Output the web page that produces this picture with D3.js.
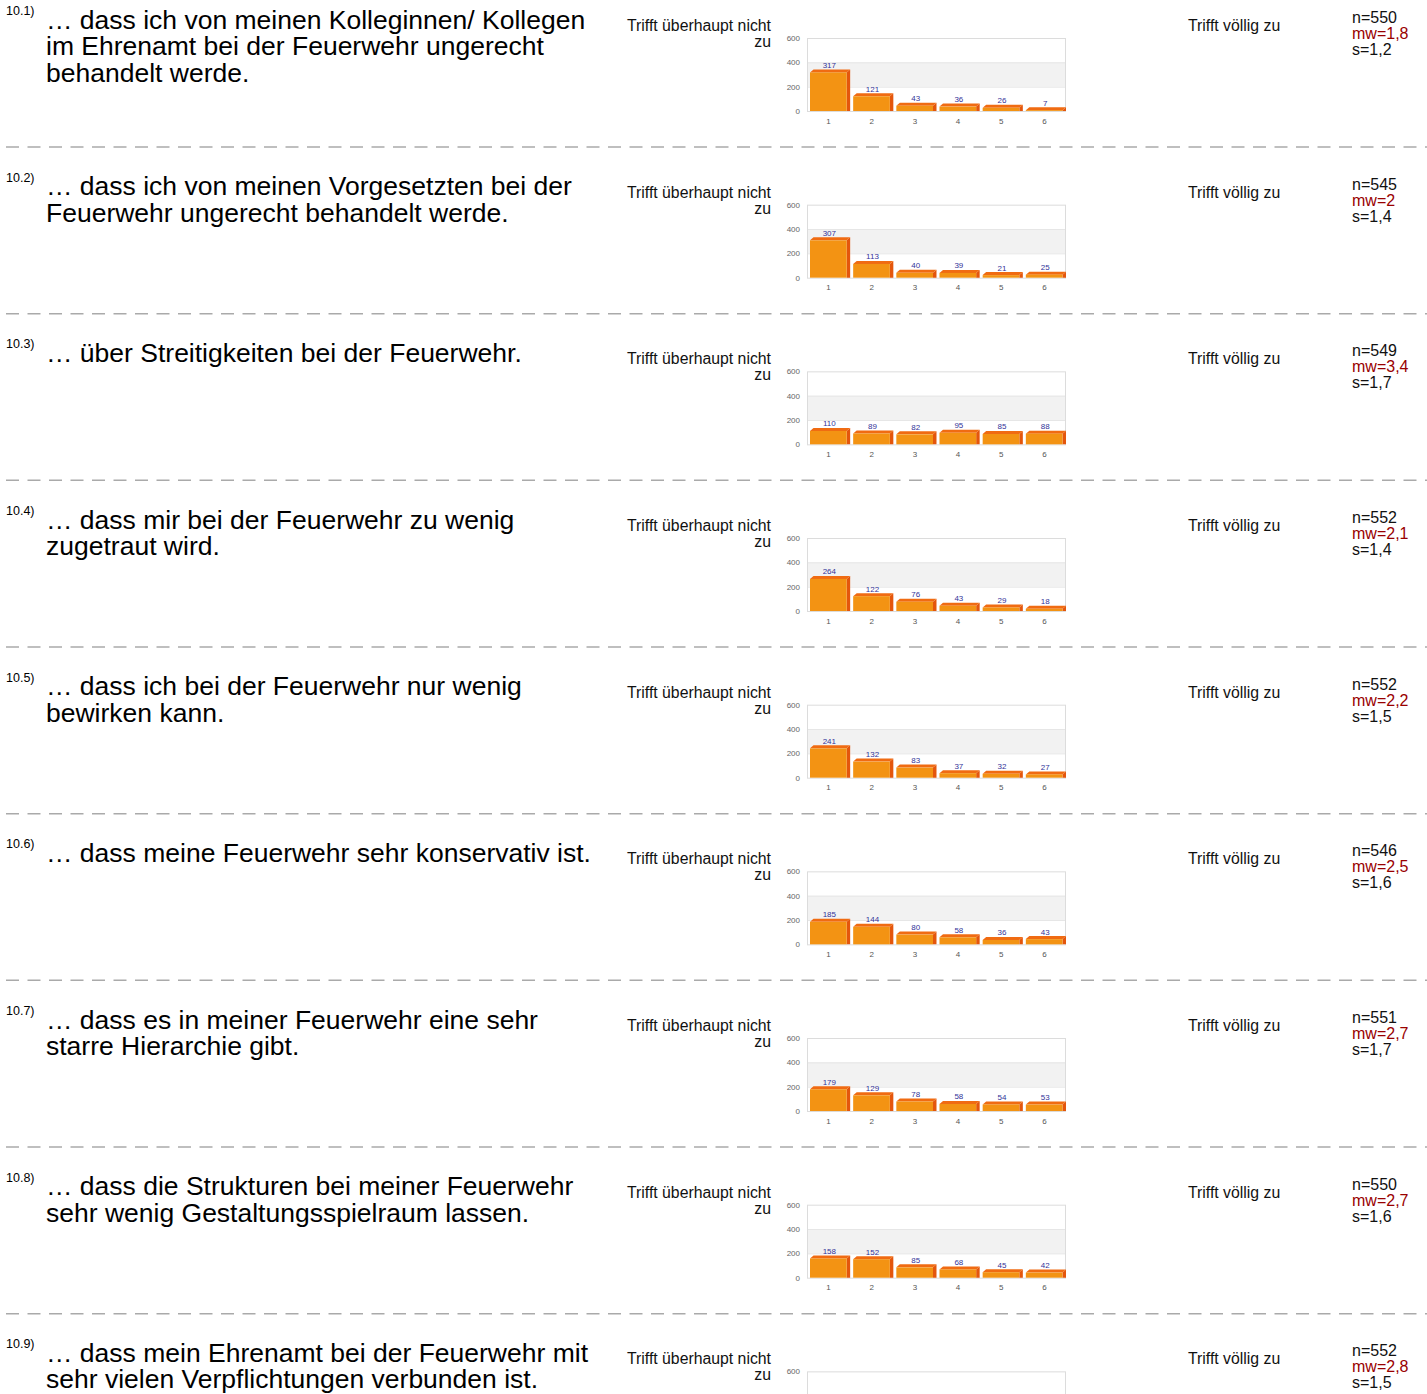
<!DOCTYPE html>
<html><head><meta charset="utf-8">
<script src="https://cdn.jsdelivr.net/npm/d3@7"></script>
<style>
html,body{margin:0;padding:0;background:#fff;overflow:hidden;}
svg{display:block;font-family:"Liberation Sans",Arial,sans-serif;}
</style></head>
<body>
<svg id="chart" width="1427" height="1394"></svg>
<script>
const ids = ["10.1)","10.2)","10.3)","10.4)","10.5)","10.6)","10.7)","10.8)","10.9)"];
const questions = [
  ["… dass ich von meinen Kolleginnen/ Kollegen","im Ehrenamt bei der Feuerwehr ungerecht","behandelt werde."],
  ["… dass ich von meinen Vorgesetzten bei der","Feuerwehr ungerecht behandelt werde."],
  ["… über Streitigkeiten bei der Feuerwehr."],
  ["… dass mir bei der Feuerwehr zu wenig","zugetraut wird."],
  ["… dass ich bei der Feuerwehr nur wenig","bewirken kann."],
  ["… dass meine Feuerwehr sehr konservativ ist."],
  ["… dass es in meiner Feuerwehr eine sehr","starre Hierarchie gibt."],
  ["… dass die Strukturen bei meiner Feuerwehr","sehr wenig Gestaltungsspielraum lassen."],
  ["… dass mein Ehrenamt bei der Feuerwehr mit","sehr vielen Verpflichtungen verbunden ist."]
];
const categories = ["1","2","3","4","5","6"];
const values = [
  [317,121,43,36,26,7],
  [307,113,40,39,21,25],
  [110,89,82,95,85,88],
  [264,122,76,43,29,18],
  [241,132,83,37,32,27],
  [185,144,80,58,36,43],
  [179,129,78,58,54,53],
  [158,152,85,68,45,42],
  [140,130,120,80,45,37]
];
const nVals = ["550","545","549","552","552","546","551","550","552"];
const mwVals = ["1,8","2","3,4","2,1","2,2","2,5","2,7","2,7","2,8"];
const sVals = ["1,2","1,4","1,7","1,4","1,5","1,6","1,7","1,6","1,5"];
const yTicks = [0,200,400,600];
const leftLabel = ["Trifft überhaupt nicht","zu"];
const rightLabel = "Trifft völlig zu";

const svg = d3.select("#chart");
const period = 166.67;

const x = d3.scaleBand().domain(categories).range([807,1066]).paddingInner(0).paddingOuter(0);
const y = d3.scaleLinear().domain([0,600]).range([111,38]);

ids.forEach((id,i)=>{
  const g = svg.append("g").attr("transform",`translate(0,${i*period})`);
  // id
  g.append("text").attr("x",6).attr("y",15).attr("font-size",12.5).attr("fill","#000").text(id);
  // question
  const qt = g.append("text").attr("x",46).attr("y",28.5).attr("font-size",26.5).attr("fill","#000");
  questions[i].forEach((line,k)=>{
    qt.append("tspan").attr("x",46).attr("y",28.5+k*26.5).text(line);
  });
  // left label
  leftLabel.forEach((t,k)=>{
    g.append("text").attr("x",771).attr("y",31+k*16).attr("text-anchor","end")
      .attr("font-size",15.8).attr("fill","#111").text(t);
  });
  g.append("text").attr("x",1188).attr("y",31).attr("font-size",15.8).attr("fill","#111").text(rightLabel);
  // stats
  g.append("text").attr("x",1352).attr("y",23).attr("font-size",16).attr("fill","#111").text("n="+nVals[i]);
  g.append("text").attr("x",1352).attr("y",39).attr("font-size",16).attr("fill","#990000").text("mw="+mwVals[i]);
  g.append("text").attr("x",1352).attr("y",55).attr("font-size",16).attr("fill","#111").text("s="+sVals[i]);

  // plot background
  g.append("rect").attr("x",807).attr("y",y(600)).attr("width",259).attr("height",y(0)-y(600))
    .attr("fill","#fff");
  g.append("rect").attr("x",807).attr("y",y(400)).attr("width",259).attr("height",y(200)-y(400))
    .attr("fill","#f2f2f2");
  [200,400].forEach(v=>{
    g.append("line").attr("x1",807).attr("x2",1066).attr("y1",y(v)+0.5).attr("y2",y(v)+0.5)
      .attr("stroke","#e6e6e6").attr("stroke-width",1);
  });
  g.append("rect").attr("x",807.5).attr("y",y(600)+0.5).attr("width",258).attr("height",y(0)-y(600))
    .attr("fill","none").attr("stroke","#dcdcdc").attr("stroke-width",1);

  // y axis
  const ya = g.append("g").attr("transform","translate(807,0)")
    .call(d3.axisLeft(y).tickValues(yTicks).tickSize(0).tickPadding(7));
  ya.select(".domain").remove();
  ya.selectAll("text").attr("font-size",8).attr("fill","#666").attr("font-family","Liberation Sans, Arial, sans-serif");
  // x axis
  const xa = g.append("g").attr("transform",`translate(0,${y(0)})`)
    .call(d3.axisBottom(x).tickSize(0).tickPadding(7));
  xa.select(".domain").remove();
  xa.selectAll("text").attr("font-size",8).attr("fill","#555").attr("font-family","Liberation Sans, Arial, sans-serif");

  // bars
  const dx = 3.5, dy = 3;
  const bw = x.bandwidth();
  const bars = g.append("g").selectAll("g").data(values[i]).join("g");
  bars.each(function(v,j){
    const b = d3.select(this);
    const x0 = x(categories[j]) + 3;
    const w = bw - 3 - dx;
    const yt = y(v), yb = y(0);
    // side
    b.append("path").attr("d",`M${x0+w},${yb} L${x0+w},${yt} L${x0+w+dx},${yt-dy} L${x0+w+dx},${yb} Z`)
      .attr("fill","#e4560c");
    // top
    b.append("path").attr("d",`M${x0},${yt} L${x0+dx},${yt-dy} L${x0+w+dx},${yt-dy} L${x0+w},${yt} Z`)
      .attr("fill","#f06b12");
    // front
    b.append("rect").attr("x",x0).attr("y",yt).attr("width",w).attr("height",Math.max(0,yb-yt))
      .attr("fill","#f39313");
    b.append("text").attr("x",x0+w/2+1).attr("y",yt-dy-1.5).attr("text-anchor","middle")
      .attr("font-size",8).attr("fill","#333399").text(v);
  });

  // separator
  if (i < ids.length-1) {
    g.append("line").attr("x1",6).attr("x2",1427).attr("y1",147).attr("y2",147)
      .attr("stroke","#aaaaaa").attr("stroke-width",1.5).attr("stroke-dasharray","13,8.5");
  }
});
</script>
</body></html>
